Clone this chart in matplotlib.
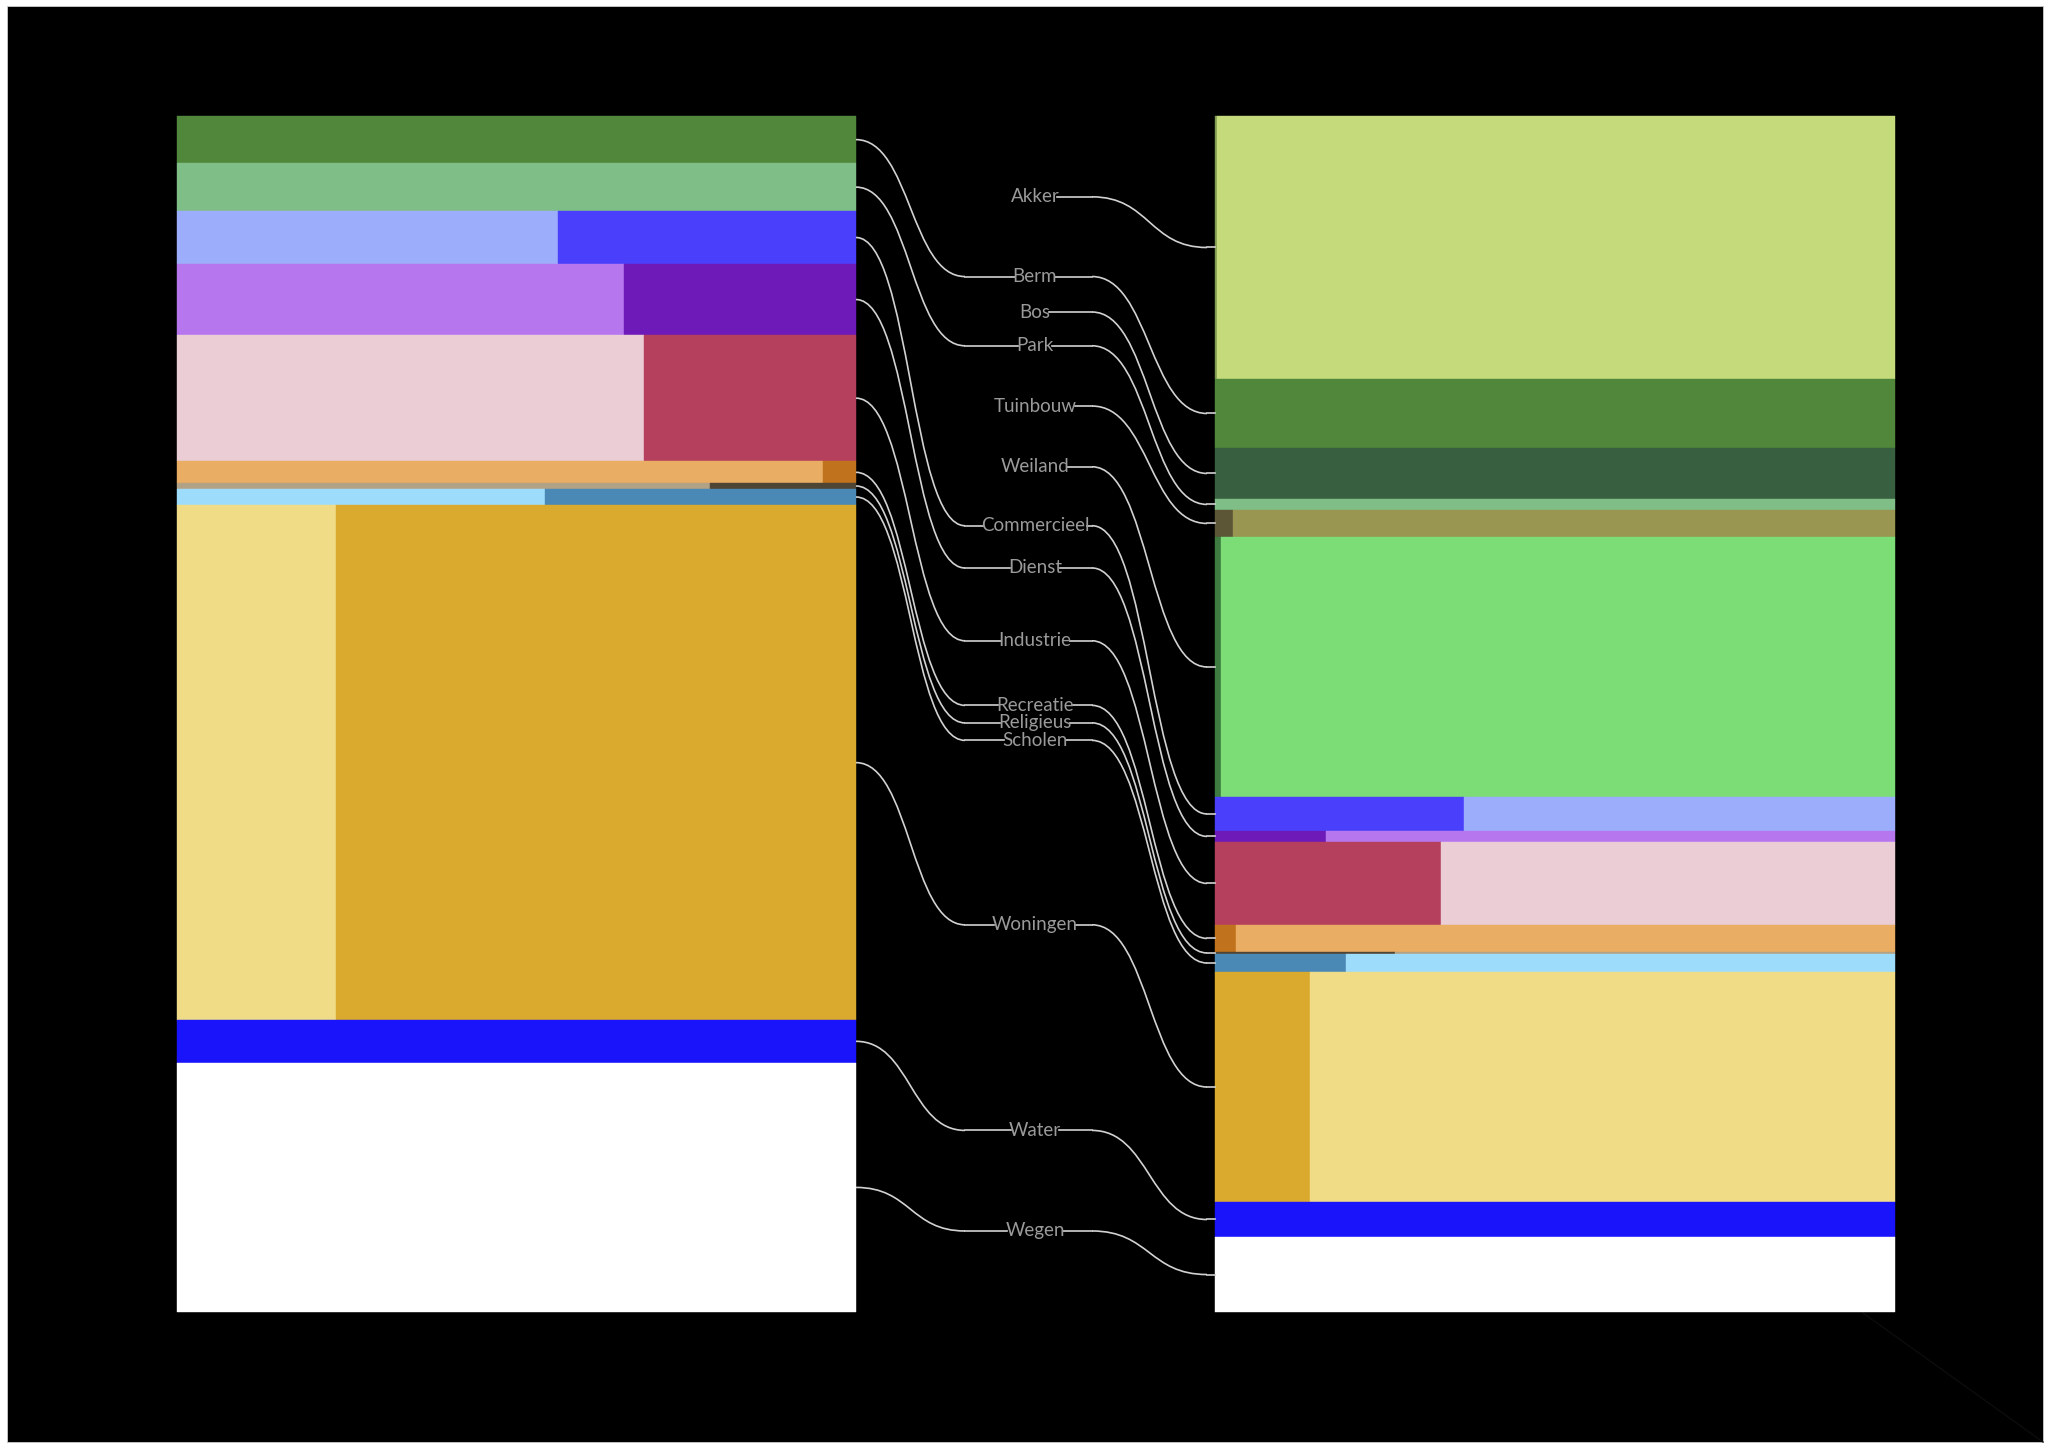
import numpy as np
import matplotlib
matplotlib.use("Agg")
import matplotlib.pyplot as plt
from matplotlib.patches import Rectangle, PathPatch
from matplotlib.path import Path

# ---------------- data (share of total area, %) ----------------
categories = ["Akker", "Berm", "Bos", "Park", "Tuinbouw", "Weiland",
              "Commercieel", "Dienst", "Industrie", "Recreatie", "Religieus",
              "Scholen", "Woningen", "Water", "Wegen"]

# left situation: light part / dark part
left_light = [0, 3.95, 0, 3.99, 0, 0, 2.49, 3.91, 7.25, 1.77, 0.33, 0.77, 10.10, 3.60, 20.82]
left_dark = [0, 0, 0, 0, 0, 0, 1.94, 2.03, 3.29, 0.09, 0.09, 0.65, 32.88, 0, 0]

# right situation: dark part / light part
right_dark = [0.05, 0, 0, 0, 0.06, 0.20, 1.04, 0.15, 2.31, 0.07, 0.045, 0.29, 2.69, 0, 0]
right_light = [21.94, 5.77, 4.26, 0.92, 2.20, 21.54, 1.80, 0.77, 4.63, 2.19, 0.125, 1.22, 16.54, 2.93, 6.27]

light_colors = ["#c5db7b", "#50873a", "#385f3f", "#7fbe87", "#989650", "#7cdd76",
                "#9cadfb", "#b677ee", "#eacdd5", "#e9ad63", "#b1a286",
                "#9edcfb", "#f0dc87", "#1a14fb", "#ffffff"]
dark_colors = ["#7f9a52", "#50873a", "#385f3f", "#7fbe87", "#5c5637", "#3e7b40",
               "#4a40fb", "#6e1ab8", "#b5405e", "#c0721c", "#4f4535",
               "#4a88b5", "#daaa2e", "#1a14fb", "#ffffff"]

# ---------------- layout ----------------
W_PX, H_PX = 2048, 1447
LX0, LX1 = 176.5, 856
RX0, RX1 = 1215, 1894
Y0, Y1 = 116, 1312
LABEL_X = 1035
MIN_GAP = 17.5
# label heights (fraction of panel) for categories that only exist on the right
right_only_label_frac = {"Akker": 0.0676, "Bos": 0.1639, "Tuinbouw": 0.2425, "Weiland": 0.2933}

fig = plt.figure(figsize=(W_PX / 100, H_PX / 100), dpi=100, facecolor="white")
ax = fig.add_axes([0, 0, 1, 1])
ax.set_xlim(0, W_PX)
ax.set_ylim(H_PX, 0)
ax.axis("off")

ax.add_patch(Rectangle((7, 6), 2036, 1436, facecolor="black", edgecolor="#cccccc", lw=0.6, zorder=0))
ax.plot([1863, 2043], [1313, 1442], color="#0c0c0c", lw=1.0, zorder=0.5)

H = Y1 - Y0
W = LX1 - LX0

def draw_panel(x0, first_vals, second_vals, first_cols, second_cols):
    totals = np.array(first_vals) + np.array(second_vals)
    s = totals.sum()
    y = Y0
    centers = []
    for i in range(len(categories)):
        t = totals[i]
        if t <= 0:
            centers.append(None)
            continue
        h = t / s * H
        w1 = first_vals[i] / t * W
        if w1 > 0:
            ax.add_patch(Rectangle((x0, y), w1, h, facecolor=first_cols[i],
                                   edgecolor=first_cols[i], lw=0.3, zorder=1))
        if second_vals[i] > 0:
            ax.add_patch(Rectangle((x0 + w1, y), W - w1, h, facecolor=second_cols[i],
                                   edgecolor=second_cols[i], lw=0.3, zorder=1))
        centers.append(y + h / 2)
        y += h
    return centers

left_c = draw_panel(LX0, left_light, left_dark, light_colors, dark_colors)
right_c = draw_panel(RX0, right_dark, right_light, dark_colors, light_colors)

label_y = []
for i, c in enumerate(categories):
    if left_c[i] is not None and right_c[i] is not None:
        label_y.append((left_c[i] + right_c[i]) / 2)
    else:
        label_y.append(Y0 + right_only_label_frac[c] * H)

# de-overlap: push labels downward so consecutive labels are at least MIN_GAP apart
label_y = np.array(label_y, dtype=float)
order = np.argsort(label_y)
for a, b in zip(order[:-1], order[1:]):
    if label_y[b] - label_y[a] < MIN_GAP:
        label_y[b] = label_y[a] + MIN_GAP

texts = []
for i, c in enumerate(categories):
    t = ax.text(LABEL_X, label_y[i], c, ha="center", va="center", fontsize=13.5,
                color="#9a9a9a", family=["Lato", "DejaVu Sans"], zorder=3)
    texts.append(t)

fig.canvas.draw()
inv = ax.transData.inverted()

LINE_COL = "#d2d2d2"

def s_curve(xa, ya, xb, yb):
    xm = (xa + xb) / 2
    verts = [(xa, ya), (xm, ya), (xm, yb), (xb, yb)]
    codes = [Path.MOVETO, Path.CURVE4, Path.CURVE4, Path.CURVE4]
    ax.add_patch(PathPatch(Path(verts, codes), facecolor="none", edgecolor=LINE_COL,
                           lw=1.2, zorder=2))

for i, c in enumerate(categories):
    bb = texts[i].get_window_extent()
    (tx0, _), (tx1, _) = inv.transform([(bb.x0, bb.y0), (bb.x1, bb.y1)])
    ly = label_y[i]
    if left_c[i] is not None:
        s_curve(LX1, left_c[i], 965, ly)
        ax.plot([965, tx0 + 2], [ly, ly], color=LINE_COL, lw=1.2, zorder=2)
    if right_c[i] is not None:
        ax.plot([tx1 - 2, 1092], [ly, ly], color=LINE_COL, lw=1.2, zorder=2)
        s_curve(1092, ly, 1207, right_c[i])
        ax.plot([1207, RX0], [right_c[i], right_c[i]], color=LINE_COL, lw=1.2, zorder=2)

fig.savefig("out.png", dpi=100, facecolor="white")
